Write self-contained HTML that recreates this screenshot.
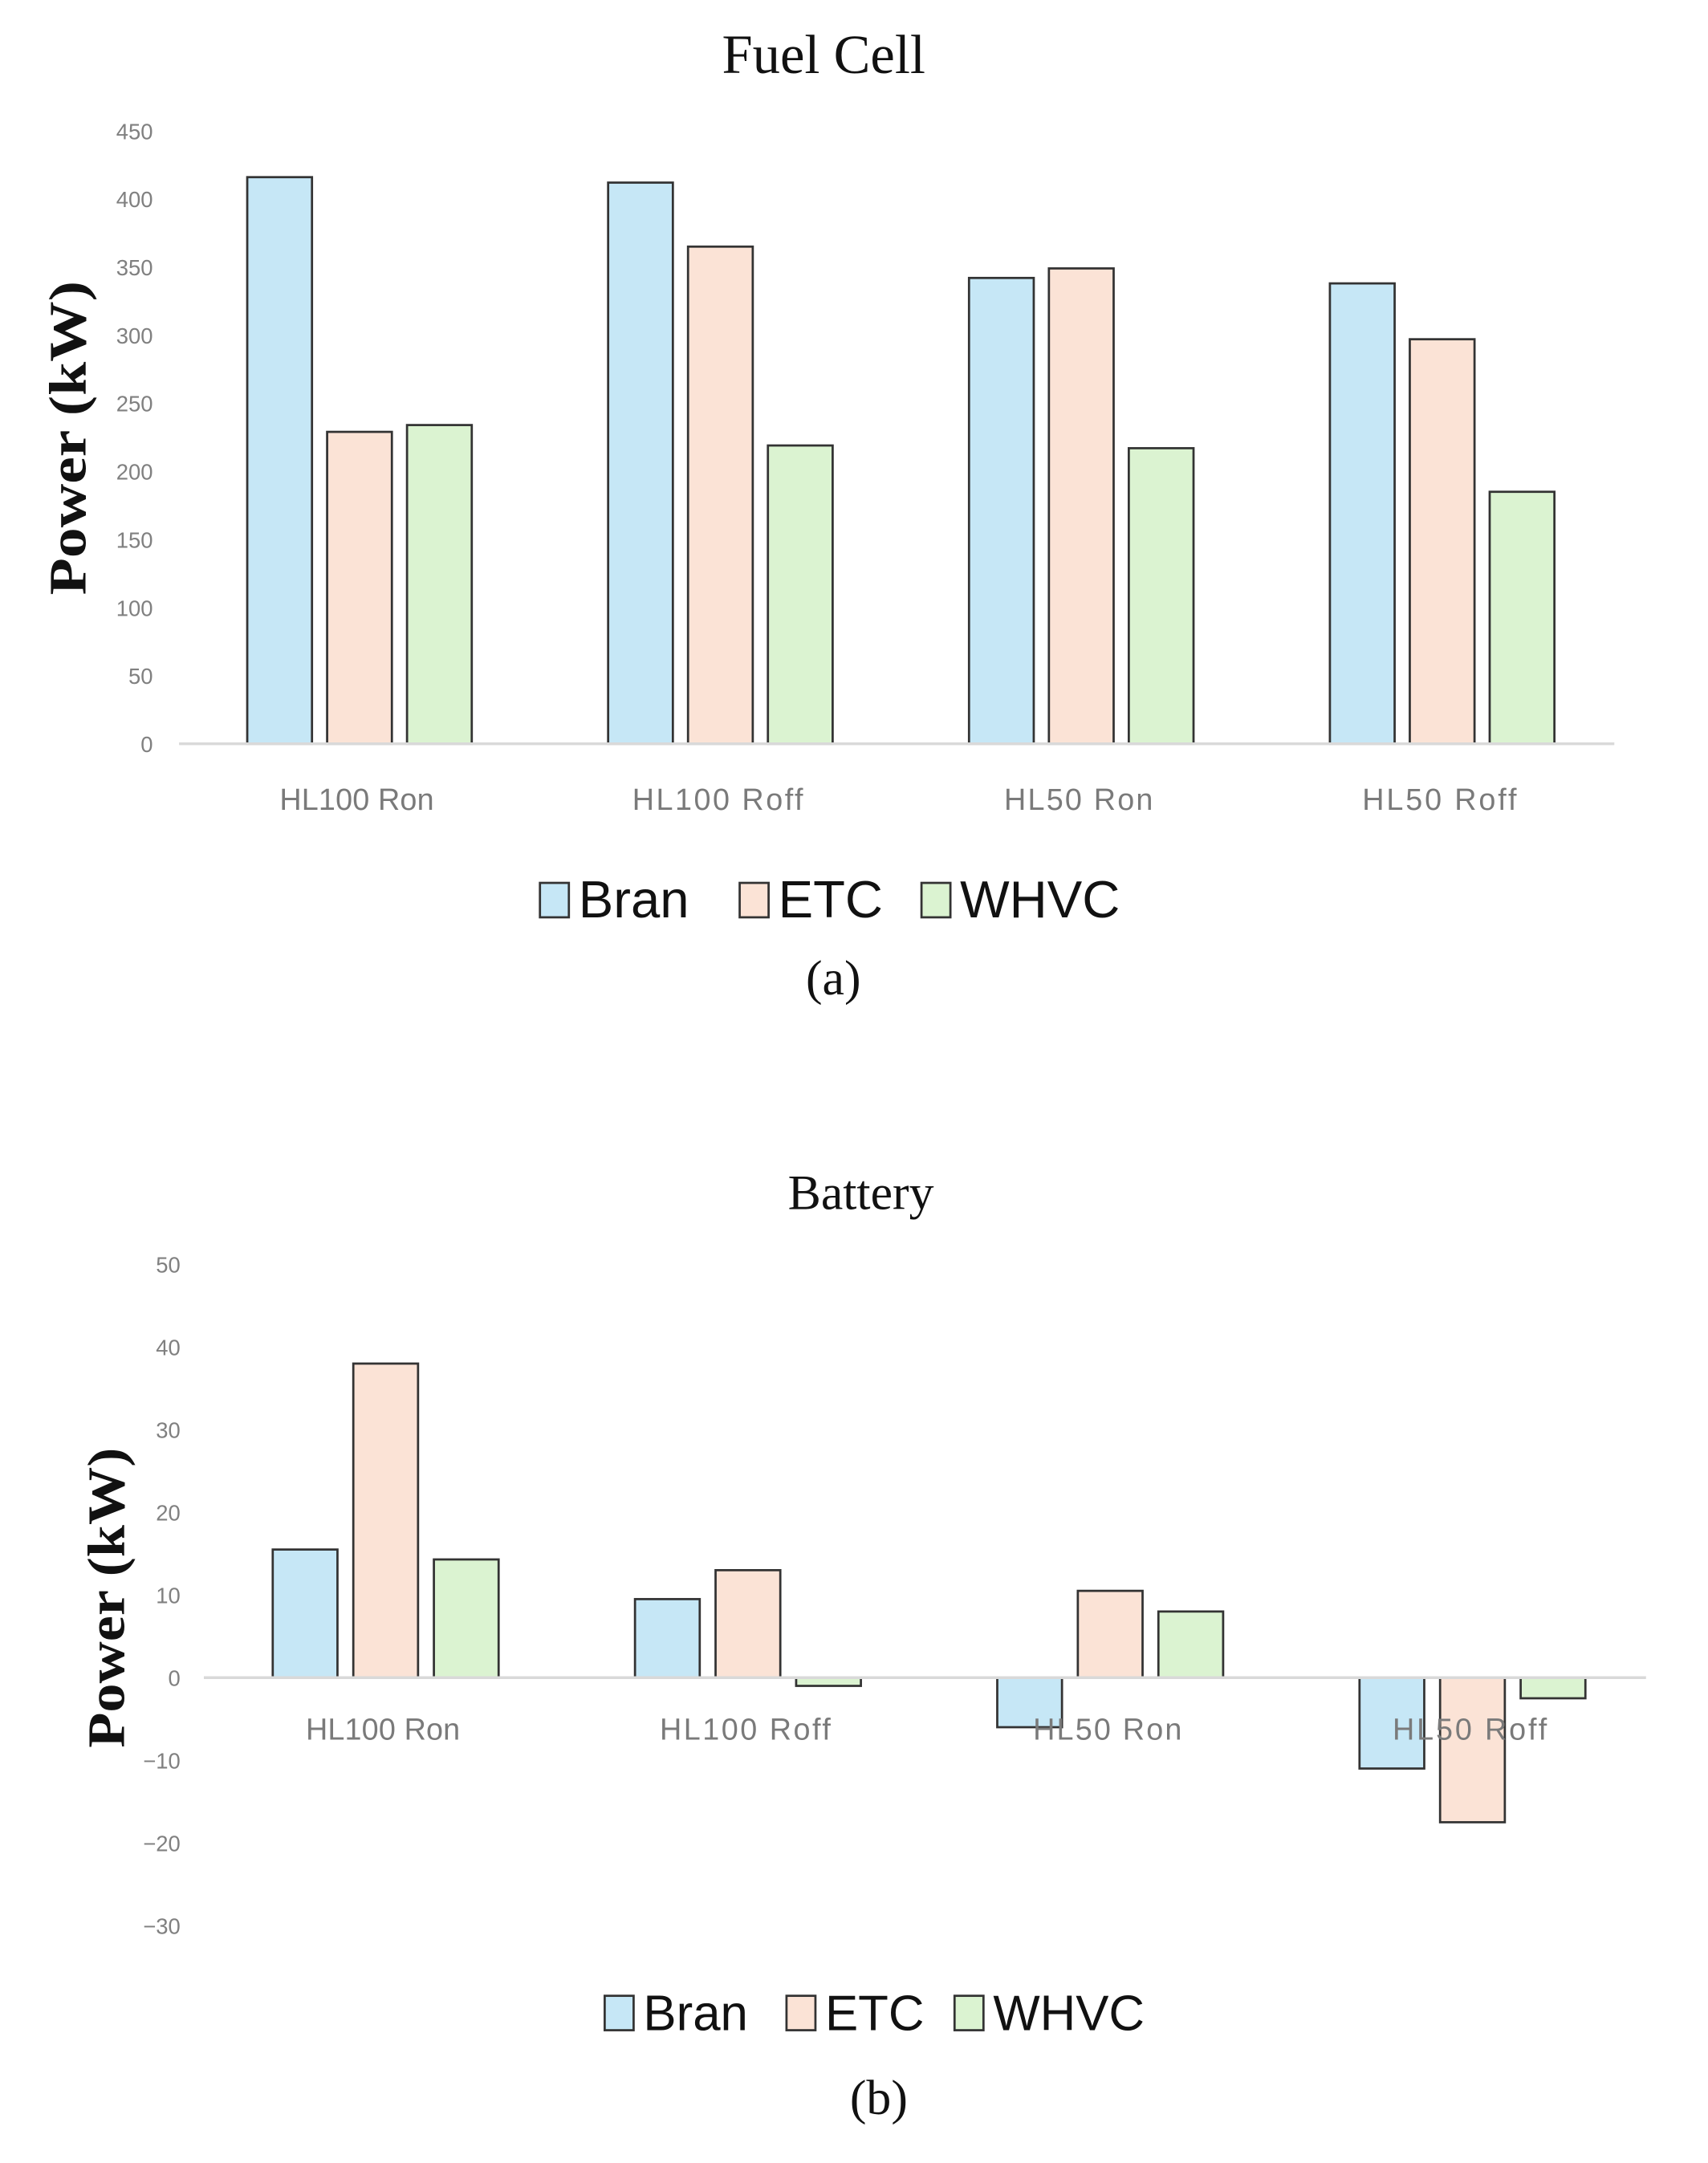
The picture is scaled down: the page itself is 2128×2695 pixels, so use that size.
<!DOCTYPE html>
<html><head><meta charset="utf-8"><style>
html,body{margin:0;padding:0;background:#fff;}
svg{display:block;}
</style></head><body>
<svg id="fig" width="2128" height="2695" viewBox="0 0 1240 1570.4" xmlns="http://www.w3.org/2000/svg">
<g id="chartA"></g>
<g id="chartB"></g>
</svg>
<script>
const categories = ["HL100 Ron", "HL100 Roff", "HL50 Ron", "HL50 Roff"];
const seriesNames = ["Bran", "ETC", "WHVC"];
const fuelBran = [416, 412, 342, 338];
const fuelETC = [229, 365, 349, 297];
const fuelWHVC = [234, 219, 217, 185];
const fuelTicks = [0, 50, 100, 150, 200, 250, 300, 350, 400, 450];
const batBran = [15.5, 9.5, -6, -11];
const batETC = [38, 13, 10.5, -17.5];
const batWHVC = [14.3, -1, 8, -2.5];
const batTicks = [-30, -20, -10, 0, 10, 20, 30, 40, 50];
const colors = ["#c6e7f6", "#fbe3d6", "#dbf3d1"];
const NS = "http://www.w3.org/2000/svg";
function mk(parent, tag, attrs, text) {
  const e = document.createElementNS(NS, tag);
  for (const k in attrs) e.setAttribute(k, attrs[k]);
  if (text !== undefined) e.textContent = text;
  parent.appendChild(e);
  return e;
}
function drawChart(g, cfg) {
  const y = v => cfg.zeroY - (v - 0) * cfg.pxPerUnit;
  const x = i => cfg.firstCenter + i * cfg.groupStep;
  const t = mk(g, "text", {x: cfg.titleX, y: cfg.titleY, "text-anchor": "middle", "font-family": "Liberation Serif, serif", "font-size": cfg.titleSize, fill: "#111"}, cfg.title);
  
  
  cfg.ticks.forEach(v => {
    const tl = mk(g, "text", {x: cfg.tickX, y: y(v) + 6, "text-anchor": "end", "font-family": "Liberation Sans, sans-serif", "font-size": 16, fill: "#808080"}, v < 0 ? "\u2212" + Math.abs(v) : String(v));
    
    
  });
  const yt = mk(g, "text", {x: 0, y: 0, transform: `translate(${cfg.yTitleX},${cfg.yTitleY}) rotate(-90)`, "text-anchor": "middle", "font-family": "Liberation Serif, serif", "font-weight": "bold", "font-size": cfg.yTitleSize, fill: "#111", textLength: cfg.yTitleLen, lengthAdjust: "spacingAndGlyphs"}, "Power (kW)");
  
  
  cfg.series.forEach((vals, s) => {
    vals.forEach((v, i) => {
      const cx = x(i) + (s - 1) * cfg.barStep;
      const top = Math.min(y(v), y(0)), h = Math.abs(y(v) - y(0));
      const r = mk(g, "rect", {x: cx - cfg.barW / 2, y: top, width: cfg.barW, height: h, fill: colors[s], stroke: "#333", "stroke-width": 1.6});
      
      
    });
  });
  const ax = mk(g, "line", {x1: cfg.axisX1, x2: cfg.axisX2, y1: y(0), y2: y(0), stroke: "#d9d9d9", "stroke-width": 2});
  
  
  categories.forEach((c, i) => {
    const cl = mk(g, "text", {x: x(i) - 2, y: cfg.catY, "text-anchor": "middle", "font-family": "Liberation Sans, sans-serif", "font-size": 22, fill: "#7a7a7a", textLength: c.length > 9 ? 124 : (c.length > 8 ? 112 : 108)}, c);
    
    
  });
  let lx = cfg.legendX;
  seriesNames.forEach((n, s) => {
    const sq = mk(g, "rect", {x: lx, y: cfg.legendY - 25, width: 21, height: 25, fill: colors[s], stroke: "#333", "stroke-width": 1.6});
    
    
    const lt = mk(g, "text", {x: lx + 28, y: cfg.legendY, "font-family": "Liberation Sans, sans-serif", "font-size": cfg.legendSize, fill: "#111"}, n);
    
    
    lx += cfg.legendGaps[s];
  });
  const cap = mk(g, "text", {x: cfg.capX, y: cfg.capY, "text-anchor": "middle", "font-family": "Liberation Serif, serif", "font-size": 36, fill: "#111"}, cfg.caption);
  
  
}
drawChart(document.getElementById("chartA"), {
  title: "Fuel Cell", titleX: 598, titleY: 53, titleSize: 40,
  zeroY: 540, pxPerUnit: 445 / 450, firstCenter: 261, groupStep: 262, barW: 47, barStep: 58,
  ticks: fuelTicks, tickX: 111, yTitleX: 62, yTitleY: 318, yTitleSize: 38, yTitleLen: 228,
  series: [fuelBran, fuelETC, fuelWHVC], axisX1: 130, axisX2: 1172, catY: 588,
  legendX: 392, legendY: 666, legendSize: 38, legendGaps: [145, 132, 0],
  caption: "(a)", capX: 605, capY: 722
});
drawChart(document.getElementById("chartB"), {
  title: "Battery", titleX: 625, titleY: 878, titleSize: 36,
  zeroY: 1218, pxPerUnit: 6, firstCenter: 280, groupStep: 263, barW: 47, barStep: 58.5,
  ticks: batTicks, tickX: 131, yTitleX: 90, yTitleY: 1160, yTitleSize: 38, yTitleLen: 218,
  series: [batBran, batETC, batWHVC], axisX1: 148, axisX2: 1195, catY: 1263,
  legendX: 439, legendY: 1474, legendSize: 36, legendGaps: [132, 122, 0],
  caption: "(b)", capX: 638, capY: 1535
});
</script>
</body></html>
